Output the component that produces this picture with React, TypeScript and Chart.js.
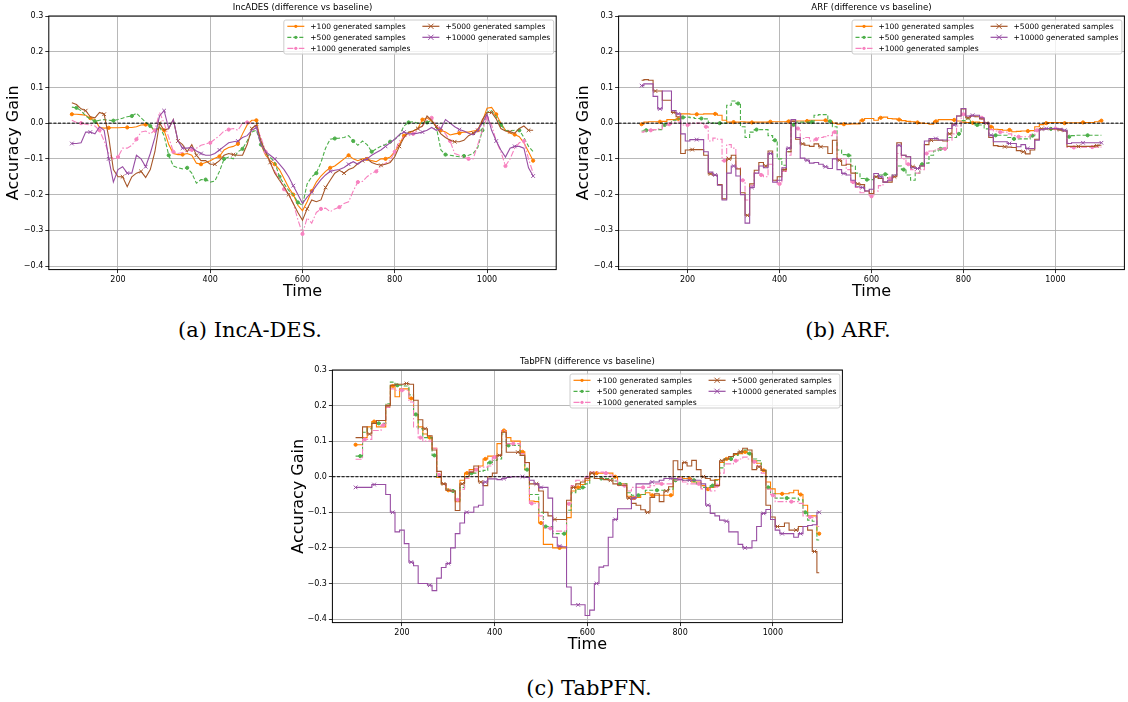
import React, { useEffect, useRef } from "react";
import { Chart, registerables } from "chart.js";

Chart.register(...registerables);

// ---------------- DATA ----------------
const TIME = [
  100, 110, 120, 130, 140, 150, 160, 170, 180, 190,
  200, 210, 220, 230, 240, 250, 260, 270, 280, 290,
  300, 310, 320, 330, 340, 350, 360, 370, 380, 390,
  400, 410, 420, 430, 440, 450, 460, 470, 480, 490,
  500, 510, 520, 530, 540, 550, 560, 570, 580, 590,
  600, 610, 620, 630, 640, 650, 660, 670, 680, 690,
  700, 710, 720, 730, 740, 750, 760, 770, 780, 790,
  800, 810, 820, 830, 840, 850, 860, 870, 880, 890,
  900, 910, 920, 930, 940, 950, 960, 970, 980, 990,
  1000, 1010, 1020, 1030, 1040, 1050, 1060, 1070, 1080, 1090,
  1100,
];

const X_TICKS = [200, 400, 600, 800, 1000];
const Y_TICKS = [-0.4, -0.3, -0.2, -0.1, 0.0, 0.1, 0.2, 0.3];

const SERIES_LABELS = [
  "+100 generated samples",
  "+500 generated samples",
  "+1000 generated samples",
  "+5000 generated samples",
  "+10000 generated samples",
];

const PANEL_TITLES = [
  "IncADES (difference vs baseline)",
  "ARF (difference vs baseline)",
  "TabPFN (difference vs baseline)",
];

const CAPTIONS = ["(a) IncA-DES.", "(b) ARF.", "(c) TabPFN."];

// ---- (a) IncADES ----
const A_P100 = [
  0.025, 0.025, 0.024, 0.022, 0.014, 0.010, -0.012, -0.014, -0.013, -0.013,
  -0.013, -0.012, -0.012, -0.012, -0.010, -0.005, -0.004, -0.006, -0.025, -0.012,
  -0.020, -0.060, -0.085, -0.088, -0.088, -0.085, -0.090, -0.112, -0.115, -0.110,
  -0.105, -0.098, -0.093, -0.075, -0.068, -0.065, -0.058, -0.030, -0.005, 0.008,
  0.008, -0.060, -0.090, -0.105, -0.115, -0.130, -0.155, -0.180, -0.200, -0.230,
  -0.245, -0.220, -0.190, -0.165, -0.148, -0.135, -0.125, -0.120, -0.110, -0.100,
  -0.090, -0.100, -0.105, -0.100, -0.100, -0.105, -0.108, -0.100, -0.100, -0.095,
  -0.080, -0.060, -0.035, -0.028, -0.022, -0.015, 0.010, 0.015, 0.005, -0.008,
  -0.020, -0.025, -0.033, -0.030, -0.028, -0.025, -0.025, -0.022, -0.020, 0.005,
  0.042, 0.044, 0.025, 0.000, -0.020, -0.028, -0.032, -0.038, -0.055, -0.080,
  -0.105,
];
const A_P500 = [
  0.045, 0.043, 0.035, 0.020, 0.012, 0.005, 0.008, 0.010, 0.008, 0.007,
  0.010, 0.014, 0.018, 0.020, 0.028, 0.015, 0.003, -0.008, -0.020, -0.010,
  -0.035, -0.090, -0.120, -0.125, -0.128, -0.125, -0.140, -0.168, -0.158, -0.158,
  -0.165, -0.162, -0.135, -0.100, -0.095, -0.100, -0.080, -0.072, -0.050, -0.025,
  -0.020, -0.060, -0.085, -0.095, -0.110, -0.150, -0.170, -0.188, -0.200, -0.222,
  -0.230, -0.170, -0.150, -0.140, -0.110, -0.070, -0.045, -0.043, -0.042, -0.040,
  -0.035, -0.050, -0.062, -0.050, -0.060, -0.080, -0.072, -0.065, -0.060, -0.052,
  -0.045, -0.035, -0.008, 0.002, 0.004, 0.000, 0.000, 0.002, 0.008, -0.010,
  -0.075, -0.088, -0.090, -0.092, -0.094, -0.092, -0.090, -0.085, -0.068, -0.020,
  0.030, 0.035, 0.018, -0.005, -0.020, -0.022, -0.020, -0.020, -0.040, -0.065,
  -0.080,
];
const A_P1000 = [
  0.008, 0.002, 0.000, -0.003, -0.005, -0.008, -0.020, -0.050, -0.085, -0.100,
  -0.095, -0.070, -0.070, -0.062, -0.045, -0.025, -0.022, -0.030, -0.020, 0.030,
  0.000, -0.040, -0.080, -0.085, -0.082, -0.078, -0.075, -0.070, -0.062, -0.058,
  -0.055, -0.045, -0.035, -0.022, -0.018, -0.015, -0.020, 0.000, 0.002, 0.000,
  -0.010, -0.040, -0.080, -0.110, -0.135, -0.155, -0.185, -0.200, -0.225, -0.270,
  -0.310, -0.265, -0.280, -0.250, -0.240, -0.238, -0.248, -0.240, -0.235, -0.225,
  -0.220, -0.190, -0.165, -0.163, -0.150, -0.140, -0.135, -0.120, -0.112, -0.105,
  -0.080, -0.050, -0.038, -0.035, -0.030, -0.020, -0.008, 0.010, 0.015, -0.008,
  -0.015, -0.030, -0.050, -0.085, -0.090, -0.095, -0.100, -0.100, -0.060, -0.020,
  0.015, -0.005, -0.050, -0.080, -0.120, -0.100, -0.070, -0.055, -0.050, -0.100,
  -0.140,
];
const A_P5000 = [
  0.057, 0.052, 0.040, 0.035, 0.018, 0.015, 0.030, 0.025, -0.040, -0.130,
  -0.150, -0.150, -0.178, -0.150, -0.140, -0.135, -0.152, -0.130, -0.080, 0.000,
  -0.020, -0.015, 0.010, -0.050, -0.060, -0.080, -0.060, -0.090, -0.105, -0.105,
  -0.115, -0.115, -0.105, -0.090, -0.085, -0.088, -0.090, -0.090, -0.060, -0.015,
  -0.005, -0.050, -0.080, -0.110, -0.140, -0.160, -0.178, -0.200, -0.225, -0.250,
  -0.272, -0.240, -0.215, -0.220, -0.215, -0.180, -0.160, -0.140, -0.132, -0.140,
  -0.130, -0.125, -0.113, -0.105, -0.100, -0.110, -0.115, -0.118, -0.115, -0.110,
  -0.094, -0.065, -0.040, -0.025, -0.022, -0.015, -0.008, 0.020, 0.008, -0.010,
  -0.030, -0.040, -0.048, -0.052, -0.052, -0.048, -0.035, -0.028, -0.020, 0.010,
  0.030, 0.030, 0.012, -0.015, -0.022, -0.024, -0.028, -0.015, -0.008, -0.020,
  -0.020,
];
const A_P10000 = [
  -0.057, -0.057, -0.055, -0.025, -0.025, -0.030, -0.010, -0.020, -0.100, -0.165,
  -0.130, -0.122, -0.140, -0.140, -0.090, -0.100, -0.122, -0.085, -0.040, 0.020,
  0.035, -0.015, 0.010, -0.050, -0.070, -0.070, -0.068, -0.078, -0.085, -0.090,
  -0.090, -0.085, -0.075, -0.065, -0.055, -0.052, -0.050, -0.040, -0.035, -0.020,
  -0.012, -0.060, -0.080, -0.090, -0.100, -0.115, -0.130, -0.150, -0.175, -0.200,
  -0.225, -0.207, -0.193, -0.175, -0.158, -0.145, -0.135, -0.132, -0.130, -0.124,
  -0.115, -0.108, -0.115, -0.105, -0.100, -0.090, -0.082, -0.075, -0.065, -0.055,
  -0.045, -0.032, -0.025, -0.030, -0.030, -0.028, -0.025, -0.020, -0.012, -0.020,
  -0.015, 0.010, 0.000, -0.010, -0.018, -0.022, -0.028, -0.033, -0.020, 0.000,
  0.025, -0.020, -0.050, -0.075, -0.095, -0.070, -0.065, -0.065, -0.070, -0.125,
  -0.148,
];

// ---- (b) ARF ----
const B_P100 = [
  -0.003, 0.003, 0.004, 0.004, 0.004, 0.005, 0.010, 0.010, 0.012, 0.026,
  0.026, 0.025, 0.025, 0.025, 0.026, 0.026, 0.026, 0.022, 0.008, 0.003,
  0.003, 0.003, 0.004, 0.003, 0.002, 0.003, 0.003, 0.003, 0.004, 0.004,
  0.004, 0.004, 0.005, 0.006, 0.006, 0.006, 0.006, 0.008, 0.008, 0.008,
  0.008, 0.005, 0.000, -0.003, -0.003, -0.003, -0.002, -0.002, 0.008, 0.013,
  0.013, 0.008, 0.015, 0.017, 0.013, 0.012, 0.010, 0.007, 0.005, 0.004,
  0.002, 0.000, -0.001, -0.003, 0.005, 0.010, 0.010, 0.010, 0.009, 0.006,
  0.003, 0.002, 0.001, 0.003, 0.002, 0.000, -0.010, -0.017, -0.018, -0.020,
  -0.019, -0.024, -0.023, -0.022, -0.022, -0.021, -0.010, -0.004, 0.000, 0.002,
  0.002, 0.002, 0.000, 0.001, 0.001, 0.001, 0.002, 0.002, 0.002, 0.004,
  0.007,
];
const B_P500 = [
  -0.022, -0.020, -0.020, -0.018, -0.018, -0.005, 0.000, 0.008, 0.012, 0.016,
  0.017, 0.015, 0.013, 0.013, 0.012, 0.002, 0.000, 0.000, 0.000, 0.050,
  0.062, 0.055, -0.010, -0.040, -0.025, -0.018, -0.018, -0.018, -0.035, -0.048,
  -0.100, -0.118, -0.080, -0.005, 0.003, 0.003, 0.003, 0.003, 0.022, 0.024,
  0.024, 0.005, -0.010, -0.075, -0.088, -0.090, -0.120, -0.140, -0.155, -0.158,
  -0.158, -0.150, -0.145, -0.143, -0.155, -0.145, -0.120, -0.130, -0.145, -0.160,
  -0.140, -0.115, -0.112, -0.090, -0.078, -0.072, -0.070, -0.040, -0.040, -0.030,
  0.007, 0.012, 0.000, -0.005, -0.005, -0.016, -0.034, -0.034, -0.034, -0.034,
  -0.040, -0.044, -0.044, -0.044, -0.044, -0.035, -0.020, -0.016, -0.016, -0.016,
  -0.016, -0.020, -0.020, -0.038, -0.035, -0.034, -0.034, -0.034, -0.034, -0.034,
  -0.034,
];
const B_P1000 = [
  -0.025, -0.022, -0.020, -0.018, -0.016, -0.005, -0.003, 0.003, 0.003, -0.005,
  -0.005, 0.000, 0.000, 0.000, -0.010, -0.050, -0.042, -0.045, -0.105, -0.060,
  -0.070, -0.125, -0.160, -0.215, -0.175, -0.140, -0.145, -0.150, -0.115, -0.160,
  -0.170, -0.135, -0.090, -0.010, -0.015, -0.043, -0.040, -0.050, -0.045, -0.040,
  -0.038, -0.035, -0.025, -0.100, -0.100, -0.130, -0.165, -0.180, -0.195, -0.190,
  -0.205, -0.190, -0.175, -0.165, -0.155, -0.150, -0.085, -0.100, -0.115, -0.130,
  -0.140, -0.130, -0.085, -0.078, -0.075, -0.072, -0.072, -0.048, -0.030, -0.008,
  0.025, 0.018, 0.020, 0.020, 0.015, 0.000, -0.018, -0.022, -0.025, -0.025,
  -0.030, -0.035, -0.038, -0.038, -0.038, -0.032, -0.020, -0.016, -0.015, -0.015,
  -0.015, -0.018, -0.022, -0.068, -0.068, -0.067, -0.067, -0.067, -0.067, -0.067,
  -0.067,
];
const B_P5000 = [
  0.120, 0.122, 0.120, 0.090, 0.090, 0.064, 0.064, 0.030, 0.018, -0.085,
  -0.075, -0.074, -0.074, -0.074, -0.090, -0.142, -0.146, -0.172, -0.212, -0.100,
  -0.090, -0.128, -0.195, -0.258, -0.170, -0.132, -0.110, -0.120, -0.078, -0.160,
  -0.150, -0.130, -0.080, 0.005, -0.045, -0.058, -0.062, -0.065, -0.058, -0.066,
  -0.066, -0.085, -0.048, -0.104, -0.118, -0.115, -0.140, -0.170, -0.172, -0.190,
  -0.197, -0.150, -0.155, -0.165, -0.165, -0.150, -0.055, -0.090, -0.094, -0.122,
  -0.127, -0.120, -0.060, -0.048, -0.048, -0.048, -0.050, -0.030, -0.002, 0.020,
  0.040, 0.015, 0.020, 0.018, 0.012, 0.000, -0.040, -0.063, -0.065, -0.066,
  -0.067, -0.068, -0.077, -0.080, -0.086, -0.075, -0.045, -0.016, -0.016, -0.016,
  -0.016, -0.018, -0.022, -0.065, -0.065, -0.065, -0.065, -0.065, -0.065, -0.063,
  -0.062,
];
const B_P10000 = [
  0.105, 0.110, 0.110, 0.075, 0.040, 0.090, 0.090, 0.035, 0.026, -0.030,
  -0.050, -0.046, -0.046, -0.046, -0.080, -0.137, -0.145, -0.174, -0.215, -0.140,
  -0.120, -0.148, -0.200, -0.280, -0.180, -0.140, -0.120, -0.125, -0.085, -0.165,
  -0.160, -0.125, -0.070, 0.010, -0.040, -0.098, -0.104, -0.112, -0.110, -0.115,
  -0.122, -0.127, -0.100, -0.130, -0.141, -0.145, -0.160, -0.178, -0.180, -0.190,
  -0.185, -0.141, -0.150, -0.165, -0.160, -0.145, -0.062, -0.090, -0.094, -0.125,
  -0.127, -0.120, -0.050, -0.043, -0.043, -0.047, -0.047, -0.015, -0.005, 0.020,
  0.041, 0.020, 0.022, 0.022, 0.015, 0.000, -0.034, -0.052, -0.052, -0.052,
  -0.057, -0.057, -0.066, -0.060, -0.071, -0.071, -0.048, -0.018, -0.015, -0.015,
  -0.015, -0.016, -0.020, -0.057, -0.055, -0.055, -0.055, -0.055, -0.055, -0.055,
  -0.055,
];

// ---- (c) TabPFN ----
const C_P100 = [
  0.090, 0.090, 0.110, 0.140, 0.155, 0.140, 0.140, 0.200, 0.255, 0.225,
  0.247, 0.247, 0.220, 0.175, 0.140, 0.120, 0.110, 0.080, -0.002, -0.020,
  -0.038, -0.040, -0.070, -0.010, 0.010, 0.020, 0.022, 0.030, 0.050, 0.058,
  0.058, 0.093, 0.130, 0.110, 0.100, 0.100, 0.070, 0.020, -0.068, -0.070,
  -0.130, -0.190, -0.190, -0.200, -0.200, -0.200, -0.115, -0.040, -0.030, -0.022,
  -0.010, 0.010, 0.010, 0.010, 0.010, 0.010, 0.000, -0.020, -0.020, -0.055,
  -0.060, -0.058, -0.050, -0.045, -0.052, -0.052, -0.052, -0.052, -0.052, -0.005,
  0.000, -0.005, -0.005, -0.015, -0.015, -0.025, -0.035, -0.030, -0.008, 0.040,
  0.050, 0.057, 0.062, 0.065, 0.070, 0.065, 0.045, 0.038, 0.018, -0.015,
  -0.034, -0.048, -0.048, -0.048, -0.045, -0.038, -0.050, -0.080, -0.110, -0.110,
  -0.160,
];
const C_P500 = [
  0.058, 0.058, 0.125, 0.135, 0.150, 0.150, 0.150, 0.205, 0.266, 0.257,
  0.257, 0.255, 0.230, 0.175, 0.135, 0.110, 0.110, 0.060, 0.000, -0.020,
  -0.035, -0.040, -0.066, -0.030, 0.000, 0.010, 0.010, 0.015, 0.018, 0.040,
  0.046, 0.050, 0.120, 0.088, 0.088, 0.088, 0.060, 0.020, -0.050, -0.050,
  -0.100, -0.140, -0.140, -0.160, -0.160, -0.160, -0.094, -0.045, -0.035, -0.030,
  -0.020, 0.000, -0.005, -0.005, -0.005, -0.005, -0.012, -0.020, -0.020, -0.045,
  -0.052, -0.052, -0.050, -0.038, -0.038, -0.038, -0.038, -0.038, -0.035, -0.010,
  0.000, -0.010, -0.010, -0.010, -0.020, -0.030, -0.030, -0.025, -0.010, 0.025,
  0.050, 0.050, 0.060, 0.070, 0.075, 0.065, 0.050, 0.045, 0.018, -0.030,
  -0.048, -0.060, -0.060, -0.060, -0.060, -0.060, -0.065, -0.100, -0.122, -0.125,
  -0.178,
];
const C_P1000 = [
  0.049, 0.049, 0.105, 0.105, 0.130, 0.130, 0.145, 0.195, 0.247, 0.243,
  0.243, 0.243, 0.210, 0.140, 0.110, 0.100, 0.100, 0.080, 0.005, -0.020,
  -0.035, -0.040, -0.065, -0.035, -0.005, 0.015, 0.020, 0.027, 0.027, 0.030,
  0.055, 0.060, 0.130, 0.093, 0.093, 0.093, 0.065, 0.038, -0.075, -0.075,
  -0.110, -0.145, -0.145, -0.153, -0.153, -0.153, -0.076, -0.025, -0.010, -0.010,
  -0.002, 0.013, 0.013, 0.013, 0.010, 0.005, -0.010, -0.025, -0.025, -0.040,
  -0.030, -0.030, -0.030, -0.030, -0.025, -0.020, -0.020, -0.020, -0.020, -0.010,
  -0.005, -0.015, -0.020, -0.020, -0.020, -0.034, -0.034, -0.040, -0.025, 0.010,
  0.036, 0.036, 0.045, 0.050, 0.055, 0.050, 0.042, 0.030, 0.010, -0.035,
  -0.052, -0.070, -0.070, -0.070, -0.070, -0.070, -0.075, -0.110, -0.113, -0.115,
  -0.140,
];
const C_P5000 = [
  0.110, 0.110, 0.140, 0.120, 0.150, 0.158, 0.158, 0.200, 0.257, 0.260,
  0.260, 0.262, 0.260, 0.215, 0.160, 0.135, 0.115, 0.075, 0.015, -0.020,
  -0.038, -0.040, -0.095, -0.020, 0.000, 0.013, 0.030, -0.015, -0.025, 0.000,
  0.010, 0.060, 0.125, 0.069, 0.069, 0.069, 0.060, 0.040, -0.020, -0.020,
  -0.040, -0.100, -0.110, -0.120, -0.120, -0.120, -0.066, -0.030, -0.020, -0.015,
  -0.005, 0.010, -0.005, -0.005, -0.008, -0.010, -0.020, -0.024, -0.024, -0.060,
  -0.075, -0.080, -0.093, -0.100, -0.058, -0.048, -0.070, -0.040, -0.028, 0.045,
  0.020, 0.040, 0.030, 0.046, 0.020, 0.000, -0.005, -0.010, -0.025, 0.045,
  0.050, 0.057, 0.065, 0.070, 0.080, 0.075, 0.020, 0.028, 0.018, -0.080,
  -0.113, -0.140, -0.140, -0.130, -0.150, -0.150, -0.140, -0.140, -0.150, -0.210,
  -0.270,
];
const C_P10000 = [
  -0.030, -0.030, -0.030, -0.030, -0.022, -0.022, -0.022, -0.050, -0.100, -0.155,
  -0.150, -0.188, -0.240, -0.250, -0.300, -0.300, -0.305, -0.320, -0.285, -0.255,
  -0.244, -0.200, -0.160, -0.130, -0.100, -0.100, -0.085, -0.080, -0.015, -0.006,
  -0.006, -0.008, -0.005, -0.002, 0.000, 0.000, 0.000, -0.002, -0.010, -0.020,
  -0.030, -0.030, -0.060, -0.170, -0.195, -0.197, -0.310, -0.360, -0.360, -0.360,
  -0.390, -0.375, -0.300, -0.254, -0.250, -0.170, -0.120, -0.090, -0.090, -0.090,
  -0.060, -0.020, -0.020, -0.020, -0.015, -0.015, -0.010, -0.005, -0.005, -0.005,
  -0.008, -0.010, -0.010, -0.010, -0.010, -0.020, -0.080, -0.103, -0.110, -0.122,
  -0.125, -0.155, -0.155, -0.190, -0.200, -0.200, -0.180, -0.140, -0.103, -0.092,
  -0.120, -0.150, -0.160, -0.160, -0.160, -0.170, -0.160, -0.140, -0.137, -0.135,
  -0.100,
];

// ---------------- STYLE ----------------
const FONT = '"DejaVu Sans", sans-serif';
const SERIES_STYLES = [
  { color: "#ff7f00", dash: [] as number[], marker: "circle", r: 1.6 },
  { color: "#4daf4a", dash: [4, 2], marker: "circle", r: 1.6 },
  { color: "#f781bf", dash: [6, 2, 1.5, 2], marker: "circle", r: 1.6 },
  { color: "#a65628", dash: [] as number[], marker: "crossRot", r: 2.6 },
  { color: "#984ea3", dash: [] as number[], marker: "crossRot", r: 2.6 },
];

type Panel = {
  title: string;
  series: number[][];
  stepped: boolean;
  left: number;
  top: number;
  width: number;
  height: number;
  area: { left: number; right: number; top: number; bottom: number };
  yTitlePad: number;
};

const X_SCALE_H = 32;

const PANELS: Panel[] = [
  {
    title: PANEL_TITLES[0],
    series: [A_P100, A_P500, A_P1000, A_P5000, A_P10000],
    stepped: false,
    left: 0, top: 0, width: 564, height: 310,
    area: { left: 48.8, right: 556.2, top: 16, bottom: 269.6 },
    yTitlePad: 4.4,
  },
  {
    title: PANEL_TITLES[1],
    series: [B_P100, B_P500, B_P1000, B_P5000, B_P10000],
    stepped: true,
    left: 564, top: 0, width: 564, height: 310,
    area: { left: 54.6, right: 563.2, top: 16, bottom: 269.6 },
    yTitlePad: 10,
  },
  {
    title: PANEL_TITLES[2],
    series: [C_P100, C_P500, C_P1000, C_P5000, C_P10000],
    stepped: true,
    left: 280, top: 352, width: 566, height: 310,
    area: { left: 52.4, right: 562.6, top: 18, bottom: 270.6 },
    yTitlePad: 9,
  },
];

function drawMarker(ctx: CanvasRenderingContext2D, style: string, x: number, y: number, r: number, color: string) {
  ctx.save();
  ctx.setLineDash([]);
  ctx.strokeStyle = color;
  ctx.fillStyle = color;
  ctx.lineWidth = 1;
  if (style === "circle") {
    ctx.beginPath();
    ctx.arc(x, y, r, 0, Math.PI * 2);
    ctx.fill();
  } else {
    ctx.beginPath();
    ctx.moveTo(x - r, y - r);
    ctx.lineTo(x + r, y + r);
    ctx.moveTo(x - r, y + r);
    ctx.lineTo(x + r, y - r);
    ctx.stroke();
  }
  ctx.restore();
}

function makeDecorPlugin(title: string) {
  return {
    id: "panelDecor",
    afterDatasetsDraw(chart: any) {
      const { ctx, chartArea } = chart;
      const y0 = chart.scales.y.getPixelForValue(0);
      ctx.save();
      ctx.strokeStyle = "#000";
      ctx.lineWidth = 1;
      ctx.setLineDash([3, 1.6]);
      ctx.beginPath();
      ctx.moveTo(chartArea.left, y0);
      ctx.lineTo(chartArea.right, y0);
      ctx.stroke();
      ctx.restore();
    },
    afterDraw(chart: any) {
      const { ctx, chartArea } = chart;
      // spines
      ctx.save();
      ctx.strokeStyle = "#000";
      ctx.lineWidth = 1;
      ctx.setLineDash([]);
      ctx.strokeRect(chartArea.left, chartArea.top, chartArea.right - chartArea.left, chartArea.bottom - chartArea.top);
      // title
      ctx.fillStyle = "#000";
      ctx.font = `8.6px ${FONT}`;
      ctx.textAlign = "center";
      ctx.textBaseline = "middle";
      ctx.fillText(title, (chartArea.left + chartArea.right) / 2, chartArea.top - 8.5);

      // legend (two columns, column-major like matplotlib)
      ctx.font = `7.5px ${FONT}`;
      const cols = [[0, 1, 2], [3, 4]];
      const handleLen = 17;
      const handleGap = 6;
      const colGap = 12;
      const padX = 3.5;
      const rowH = 11;
      const widths = cols.map((c) => Math.max(...c.map((i) => ctx.measureText(SERIES_LABELS[i]).width)));
      const boxW = padX * 2 + handleLen * 2 + handleGap * 2 + widths[0] + widths[1] + colGap;
      const boxH = 34;
      const bx = chartArea.right - 2.5 - boxW;
      const by = chartArea.top + 4;
      ctx.fillStyle = "rgba(255,255,255,0.8)";
      ctx.strokeStyle = "#cccccc";
      ctx.lineWidth = 1;
      ctx.beginPath();
      (ctx as any).roundRect(bx, by, boxW, boxH, 2);
      ctx.fill();
      ctx.stroke();
      let cx = bx + padX;
      cols.forEach((c, ci) => {
        c.forEach((si, ri) => {
          const st = SERIES_STYLES[si];
          const ly = by + 6.3 + ri * rowH;
          ctx.save();
          ctx.strokeStyle = st.color;
          ctx.lineWidth = 1.2;
          ctx.setLineDash(st.dash);
          ctx.beginPath();
          ctx.moveTo(cx, ly);
          ctx.lineTo(cx + handleLen, ly);
          ctx.stroke();
          ctx.restore();
          drawMarker(ctx, st.marker, cx + handleLen / 2, ly, st.r, st.color);
          ctx.fillStyle = "#000";
          ctx.textAlign = "left";
          ctx.textBaseline = "middle";
          ctx.fillText(SERIES_LABELS[si], cx + handleLen + handleGap, ly + 0.5);
        });
        cx += handleLen + handleGap + widths[ci] + colGap;
      });
      ctx.restore();
    },
  };
}

function fmtY(v: number) {
  if (Math.abs(v) < 1e-9) return "0.0";
  return v < 0 ? "\u2212" + Math.abs(v).toFixed(1) : v.toFixed(1);
}

function PanelChart({ panel }: { panel: Panel }) {
  const ref = useRef<HTMLCanvasElement | null>(null);
  useEffect(() => {
    if (!ref.current) return;
    const { area, width, height } = panel;
    const datasets = panel.series.map((vals, i) => {
      const st = SERIES_STYLES[i];
      return {
        label: SERIES_LABELS[i],
        data: TIME.map((t, k) => ({ x: t, y: vals[k] })),
        borderColor: st.color,
        backgroundColor: st.color,
        borderWidth: 1.1,
        borderDash: st.dash,
        pointStyle: st.marker,
        pointRadius: (c: any) => (c.dataIndex % 4 === (i % 4) ? st.r : 0),
        pointBorderWidth: 1,
        pointBorderColor: st.color,
        pointBackgroundColor: st.color,
        pointHoverRadius: 0,
        stepped: panel.stepped ? "middle" : false,
        tension: 0,
        fill: false,
        order: 4 - i,
      };
    });
    const chart = new Chart(ref.current, {
      type: "line",
      data: { datasets } as any,
      options: {
        animation: false,
        responsive: false,
        devicePixelRatio: 1,
        events: [],
        layout: {
          padding: {
            left: 0,
            right: width - area.right,
            top: area.top,
            bottom: height - area.bottom - X_SCALE_H,
          },
        },
        plugins: {
          legend: { display: false },
          title: { display: false },
          tooltip: { enabled: false },
        },
        scales: {
          x: {
            type: "linear",
            min: 50,
            max: 1150,
            bounds: "data",
            afterBuildTicks: (s: any) => {
              s.ticks = X_TICKS.map((v) => ({ value: v }));
            },
            afterFit: (s: any) => {
              s.height = X_SCALE_H;
            },
            ticks: {
              autoSkip: false,
              maxRotation: 0,
              padding: 2,
              color: "#000",
              font: { family: FONT, size: 8 },
              callback: (v: any) => String(v),
            },
            grid: {
              color: "#b0b0b0",
              lineWidth: 0.9,
              tickColor: "#000",
              tickLength: 3.5,
              tickWidth: 0.8,
            },
            border: { display: false },
            title: {
              display: true,
              text: "Time",
              color: "#000",
              font: { family: FONT, size: 16 },
              padding: { top: 0, bottom: 0 },
            },
          },
          y: {
            type: "linear",
            min: -0.41,
            max: 0.3,
            bounds: "data",
            afterBuildTicks: (s: any) => {
              s.ticks = Y_TICKS.map((v) => ({ value: v }));
            },
            afterFit: (s: any) => {
              s.width = area.left;
            },
            ticks: {
              padding: 2,
              color: "#000",
              font: { family: FONT, size: 8 },
              callback: (v: any) => fmtY(Number(v)),
            },
            grid: {
              color: "#b0b0b0",
              lineWidth: 0.9,
              tickColor: "#000",
              tickLength: 3.5,
              tickWidth: 0.8,
            },
            border: { display: false },
            title: {
              display: true,
              text: "Accuracy Gain",
              color: "#000",
              font: { family: FONT, size: 16 },
              padding: { top: panel.yTitlePad, bottom: 0 },
            },
          },
        },
      } as any,
      plugins: [makeDecorPlugin(panel.title)],
    });
    return () => chart.destroy();
  }, [panel]);
  return (
    <canvas
      ref={ref}
      width={panel.width}
      height={panel.height}
      style={{ position: "absolute", left: panel.left, top: panel.top, width: panel.width, height: panel.height }}
    />
  );
}

const CAPTION_POS = [
  { x: 250, y: 330 },
  { x: 848, y: 330 },
  { x: 589, y: 688 },
];

export default function App() {
  return (
    <div style={{ position: "fixed", left: 0, top: 0, width: 1128, height: 702, background: "#fff", overflow: "hidden" }}>
      {PANELS.map((p, i) => (
        <PanelChart key={i} panel={p} />
      ))}
      {CAPTIONS.map((c, i) => (
        <div
          key={c}
          style={{
            position: "absolute",
            left: CAPTION_POS[i].x - 200,
            top: CAPTION_POS[i].y - 14,
            width: 400,
            height: 28,
            lineHeight: "28px",
            textAlign: "center",
            fontFamily: '"DejaVu Serif", serif',
            fontSize: 21,
            color: "#000",
          }}
        >
          {c}
        </div>
      ))}
    </div>
  );
}
